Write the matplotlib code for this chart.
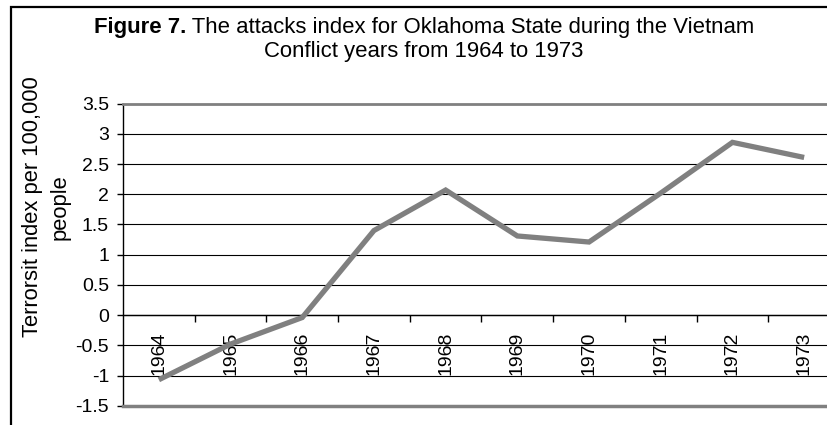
import matplotlib
matplotlib.use("Agg")
import matplotlib.pyplot as plt
from matplotlib.patches import Rectangle
from matplotlib.ticker import FixedLocator, NullFormatter

plt.rcParams['font.family'] = ['Liberation Sans', 'DejaVu Sans']

# Data
years = ['1964', '1965', '1966', '1967', '1968', '1969', '1970', '1971', '1972', '1973']
index_values = [-1.07, -0.48, -0.04, 1.40, 2.07, 1.31, 1.21, 2.02, 2.86, 2.61]
y_ticks = [-1.5, -1, -0.5, 0, 0.5, 1, 1.5, 2, 2.5, 3, 3.5]
y_tick_labels = ['-1.5', '-1', '-0.5', '0', '0.5', '1', '1.5', '2', '2.5', '3', '3.5']

W, H = 828, 425
fig = plt.figure(figsize=(W / 100, H / 100), dpi=100)

# outer chart frame (right/bottom are cropped in the reference)
fig.patches.append(Rectangle((10.5 / W, -0.05), 2.0, 1.05 - 7.5 / H, transform=fig.transFigure,
                             fill=False, edgecolor='black', linewidth=1.6))

ax = fig.add_axes([123 / W, (H - 405.7) / H, (840 - 123) / W, (405.7 - 103.7) / H])
x = list(range(len(years)))
ax.plot(x, index_values, color='#808080', linewidth=3.8, solid_capstyle='butt',
        solid_joinstyle='miter', zorder=3)

ax.set_xlim(-0.5, len(years) - 0.5)
ax.set_ylim(-1.5, 3.5)

# horizontal gridlines
ax.set_yticks(y_ticks)
ax.set_yticklabels(y_tick_labels, fontsize=14)
ax.yaxis.grid(True, color='black', linewidth=0.8)
ax.set_axisbelow(True)
ax.tick_params(axis='y', direction='out', length=4, width=1, pad=6)

# category axis crossing at zero
ax.spines['bottom'].set_position(('data', 0))
ax.spines['bottom'].set_color('black')
ax.spines['bottom'].set_linewidth(1)
ax.spines['left'].set_color('black')
ax.spines['left'].set_linewidth(1)
ax.spines['right'].set_visible(False)
ax.spines['top'].set_color('#808080')
ax.spines['top'].set_linewidth(2)
ax.axhline(-1.5, color='#808080', linewidth=2.5, zorder=4, clip_on=False)

ax.xaxis.set_major_locator(FixedLocator([i + 0.5 for i in x]))
ax.xaxis.set_major_formatter(NullFormatter())
ax.xaxis.set_minor_locator(FixedLocator(x))
ax.set_xticklabels(years, minor=True, rotation=90, fontsize=14, va='top')
ax.tick_params(axis='x', which='major', direction='out', length=5, width=1)
ax.tick_params(axis='x', which='minor', length=0, pad=12)

fig.text(46 / W, (H - 207) / H, 'Terrorsit index per 100,000\npeople', rotation=90,
         ha='center', va='center', fontsize=15.8, multialignment='center', linespacing=1.4)

# title: bold "Figure 7." followed by regular text, centred as one line
renderer = fig.canvas.get_renderer()
bold_part = 'Figure 7.'
rest_part = ' The attacks index for Oklahoma State during the Vietnam'
t1 = fig.text(0, (H - 28) / H, bold_part, fontsize=15.9, fontweight='bold', va='center')
t2 = fig.text(0, (H - 28) / H, rest_part, fontsize=15.9, va='center')
w1 = t1.get_window_extent(renderer).width
w2 = t2.get_window_extent(renderer).width
x0 = (424 - (w1 + w2) / 2) / W
t1.set_x(x0)
t2.set_x(x0 + w1 / W)
fig.text(424 / W, (H - 51) / H, 'Conflict years from 1964 to 1973', fontsize=15.9,
         ha='center', va='center')

fig.savefig('out.png', dpi=100)
